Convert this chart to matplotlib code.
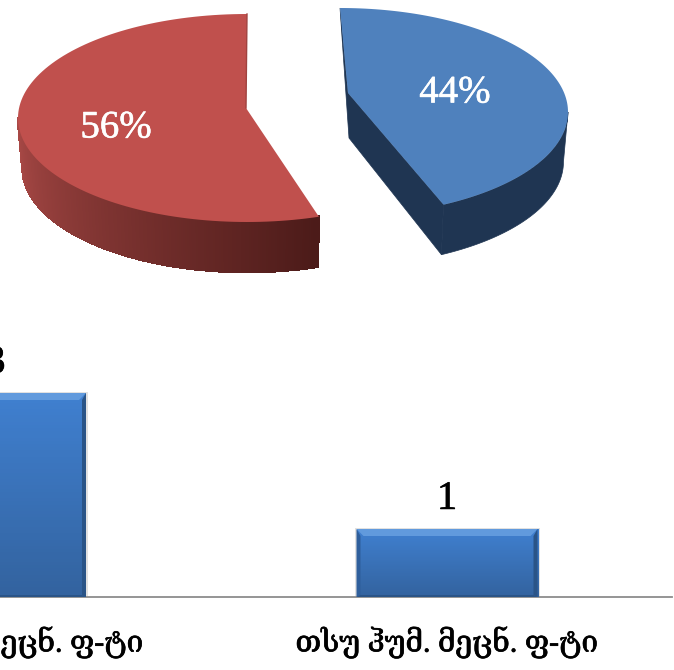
import numpy as np
import matplotlib
matplotlib.use('Agg')
import matplotlib.pyplot as plt
import matplotlib.patheffects as pe
from matplotlib.patches import Polygon
from matplotlib.colors import LinearSegmentedColormap, to_rgb

plt.rcParams['font.family'] = ['Liberation Serif', 'DejaVu Serif', 'DejaVu Sans']

# dados
pie_values = [44, 56]
bar_categories = ['ზუსტ და მეცნ. ფ-ტი', 'თსუ ჰუმ. მეცნ. ფ-ტი']
bar_values = [3, 1]

W, H = 674, 670
fig = plt.figure(figsize=(W / 100, H / 100), dpi=100)

# pizza 3D, eixo em pixels
ax_pie = fig.add_axes([0, 0, 1, 1])
ax_pie.set_xlim(0, W)
ax_pie.set_ylim(H, 0)
ax_pie.axis('off')


def arc(cx, cy, a, b, t0, t1, n=120):
    t = np.radians(np.linspace(t0, t1, n))
    return np.column_stack([cx + a * np.cos(t), cy - b * np.sin(t)])


depth = 50
thick = [pe.withStroke(linewidth=0.4, foreground='white')]

# fatia azul (sentido horario a partir do topo)
cx, cy, a, b = 340, 112, 228, 104
apex = (348, 93)
end = 90 - pie_values[0] * 3.6 + 5.4
top = arc(cx, cy, a, b, 90, end)
side = arc(cx, cy + depth, a * 0.98, b, 0, end)
ax_pie.add_patch(Polygon(np.vstack([arc(cx, cy, a, b, 0, end), side[::-1]]), fc='#1f3552', ec='#1f3552', lw=0.5))
ax_pie.add_patch(Polygon([top[0], apex, top[-1], side[-1], (349, 138)], fc='#1f3552', ec='#1f3552', lw=0.5))
ax_pie.add_patch(Polygon(np.vstack([[apex], top]), fc='#4f81bd', ec='none'))
ax_pie.text(455, 93, f'{pie_values[0]}%', color='white', fontsize=28, ha='center', va='center', path_effects=thick)

# fatia vermelha (anti-horario a partir do topo)
cx, cy, a, b = 247, 118, 229, 104
apex = (246, 108)
end = 90 + pie_values[1] * 3.6 - 3.3
top = arc(cx, cy, a, b, 90, end)
upper = arc(cx, cy, a, b, 180, end, 200)
lower = arc(cx, cy + depth, a * 0.98, b, 180, end, 200)
c_left, c_right = np.array(to_rgb('#ad4b48')), np.array(to_rgb('#4c1b19'))
for i in range(len(upper) - 1):
    f = i / (len(upper) - 2)
    c = c_left + (c_right - c_left) * f
    strip = [upper[i], upper[i + 1], lower[i + 1], lower[i]]
    ax_pie.add_patch(Polygon(strip, fc=c, ec=c, lw=1.2, antialiased=False))
ax_pie.add_patch(Polygon(np.vstack([[apex], top]), fc='#c0504d', ec='none'))
ax_pie.plot([top[0][0], apex[0]], [top[0][1], apex[1]], color='#a04340', lw=1.0)
ax_pie.text(116, 128, f'{pie_values[1]}%', color='white', fontsize=28, ha='center', va='center', path_effects=thick)

# barras
base_px = 597
px_y = 68
px_x = 451.5
x0_px = -4.5
left_px, right_px = -200, 672
ax = fig.add_axes([left_px / W, (H - base_px) / H, (right_px - left_px) / W, 300 / H])
ax.patch.set_alpha(0)
x = np.arange(len(bar_values))
bar_w = 181 / px_x
bars = ax.bar(x, bar_values, width=bar_w, color='#3f74b8')
ax.set_xlim((left_px - x0_px) / px_x, (right_px - x0_px) / px_x)
ax.set_ylim(0, 300 / px_y)
ax.set_yticks([])
ax.set_xticks(x)
ax.set_xticklabels(bar_categories, fontsize=21.5)
for lab in ax.get_xticklabels():
    lab.set_path_effects([pe.withStroke(linewidth=0.5, foreground='black')])
ax.tick_params(axis='x', length=0, pad=21)
for s in ['top', 'left', 'right']:
    ax.spines[s].set_visible(False)
ax.spines['bottom'].set_color('#8c8c8c')
ax.spines['bottom'].set_linewidth(1.3)
ax.bar_label(bars, fontsize=29, padding=8, color='black', path_effects=[pe.withStroke(linewidth=0.5, foreground='black')])

grad = LinearSegmentedColormap.from_list('g', ['#33639f', '#4080d0'])
dx, dy = 1 / px_x, 1 / px_y
for r in bars:
    x1, x2, h = r.get_x(), r.get_x() + r.get_width(), r.get_height()
    # sombra
    ax.add_patch(Polygon([(x1 - 2 * dx, 0), (x1 - 2 * dx, h + dy), (x2 + 2 * dx, h + dy), (x2 + 2 * dx, 0)],
                         fc='#888888', alpha=0.25, ec='none', zorder=1))
    ax.imshow(np.linspace(1, 0, 64).reshape(-1, 1), cmap=grad, aspect='auto', zorder=3,
              extent=(x1, x2, 0, h))
    b = 7
    ax.add_patch(Polygon([(x1, h), (x2, h), (x2 - b * dx, h - b * dy), (x1 + b * dx, h - b * dy)],
                         fc='#619add', ec='none', zorder=4))
    ax.add_patch(Polygon([(x1, h), (x1 + 4 * dx, h - b * dy), (x1 + 4 * dx, 2 * dy), (x1, 0)],
                         fc='#2f5f9c', ec='none', zorder=4))
    ax.add_patch(Polygon([(x2, h), (x2 - 4 * dx, h - b * dy), (x2 - 4 * dx, 2 * dy), (x2, 0)],
                         fc='#2a5487', ec='none', zorder=4))
    ax.add_patch(Polygon([(x1, 0), (x2, 0), (x2 - 4 * dx, 2 * dy), (x1 + 4 * dx, 2 * dy)],
                         fc='#2a5487', ec='none', zorder=4))
ax.set_xlim((left_px - x0_px) / px_x, (right_px - x0_px) / px_x)
ax.set_ylim(0, 300 / px_y)

fig.savefig('out.png', dpi=100)
